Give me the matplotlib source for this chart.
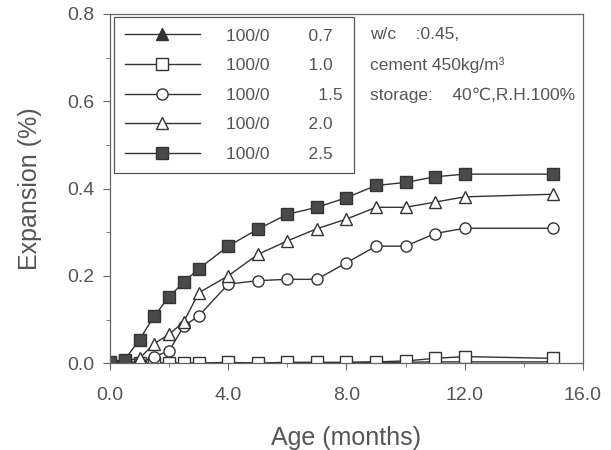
import matplotlib
matplotlib.use('Agg')
import matplotlib.pyplot as plt
from matplotlib.ticker import MultipleLocator, FormatStrFormatter

plt.rcParams['font.family'] = ['Liberation Sans', 'DejaVu Sans']

# age in months
age = [0, 0.5, 1.0, 1.5, 2.0, 2.5, 3.0, 4, 5, 6, 7, 8, 9, 10, 11, 12, 15]

# expansion (%) per ratio
exp_07 = [0.0, 0.003, 0.0, 0.0, 0.0, 0.0, 0.0, 0.0, 0.0, 0.001, 0.001, 0.001,
          0.002, 0.002, 0.003, 0.003, 0.003]
exp_10 = [0.0, 0.002, 0.0, 0.0, 0.0, 0.0, 0.0, 0.002, 0.0, 0.002, 0.002, 0.002,
          0.003, 0.005, 0.011, 0.015, 0.011]
exp_15 = [0.0, 0.005, 0.0, 0.015, 0.028, 0.085, 0.108, 0.181, 0.189, 0.192, 0.192,
          0.230, 0.268, 0.268, 0.297, 0.309, 0.309]
exp_20 = [0.0, 0.005, 0.011, 0.045, 0.066, 0.095, 0.161, 0.200, 0.249, 0.280,
          0.308, 0.330, 0.357, 0.357, 0.369, 0.381, 0.387]
exp_25 = [0.003, 0.008, 0.054, 0.108, 0.152, 0.186, 0.216, 0.268, 0.307, 0.341,
          0.357, 0.379, 0.407, 0.414, 0.427, 0.433, 0.433]

labels = ['100/0        0.7', '100/0        1.0', '100/0          1.5',
          '100/0        2.0', '100/0        2.5']
notes = ['w/c    :0.45,', 'cement 450kg/m\u00b3', 'storage:    40\u2103,R.H.100%']

ink = '#333333'
txt = '#555555'

fig = plt.figure(figsize=(6.11, 4.5), dpi=100)
ax = fig.add_axes([0.18, 0.193, 0.774, 0.776])

common = dict(color=ink, linewidth=1.0, markersize=8, markeredgewidth=1.0,
              markeredgecolor=ink)
series = [
    (exp_07, dict(marker='^', markerfacecolor=ink)),
    (exp_10, dict(marker='s', markerfacecolor='white')),
    (exp_15, dict(marker='o', markerfacecolor='white')),
    (exp_20, dict(marker='^', markerfacecolor='white')),
    (exp_25, dict(marker='s', markerfacecolor='#4a4a4a')),
]
handles = []
for (vals, style), lab in zip(series, labels):
    h, = ax.plot(age, vals, label=lab, **common, **style)
    handles.append(h)

ax.set_xlim(0, 16)
ax.set_ylim(0, 0.8)
ax.xaxis.set_major_locator(MultipleLocator(4))
ax.xaxis.set_minor_locator(MultipleLocator(2))
ax.yaxis.set_major_locator(MultipleLocator(0.2))
ax.yaxis.set_minor_locator(MultipleLocator(0.1))
ax.xaxis.set_major_formatter(FormatStrFormatter('%.1f'))
ax.yaxis.set_major_formatter(FormatStrFormatter('%.1f'))
ax.tick_params(which='both', direction='out', colors='#666666', labelcolor=txt,
               labelsize=14)
ax.tick_params(which='major', length=5)
ax.tick_params(which='minor', length=3)
ax.tick_params(axis='x', pad=12)
ax.tick_params(axis='y', pad=6)
for sp in ax.spines.values():
    sp.set_color('#666666')
    sp.set_linewidth(0.9)

ax.set_xlabel('Age (months)', fontsize=18, color=txt, labelpad=16)
ax.set_ylabel('Expansion (%)', fontsize=18, color=txt, labelpad=18)

leg = ax.legend(handles=handles, loc='upper left', bbox_to_anchor=(0.008, 0.991),
                borderaxespad=0, fancybox=False, edgecolor='#555555',
                fontsize=12.5, handlelength=4.3, handletextpad=1.5,
                labelspacing=0.83, borderpad=0.65, framealpha=1)
leg.get_frame().set_linewidth(0.9)
for t in leg.get_texts():
    t.set_color(txt)

for i, note in enumerate(notes):
    ax.text(0.55, 0.94 - i * 0.086, note, transform=ax.transAxes,
            fontsize=12.5, color=txt, va='center', ha='left')

fig.savefig('out.png', dpi=100)
